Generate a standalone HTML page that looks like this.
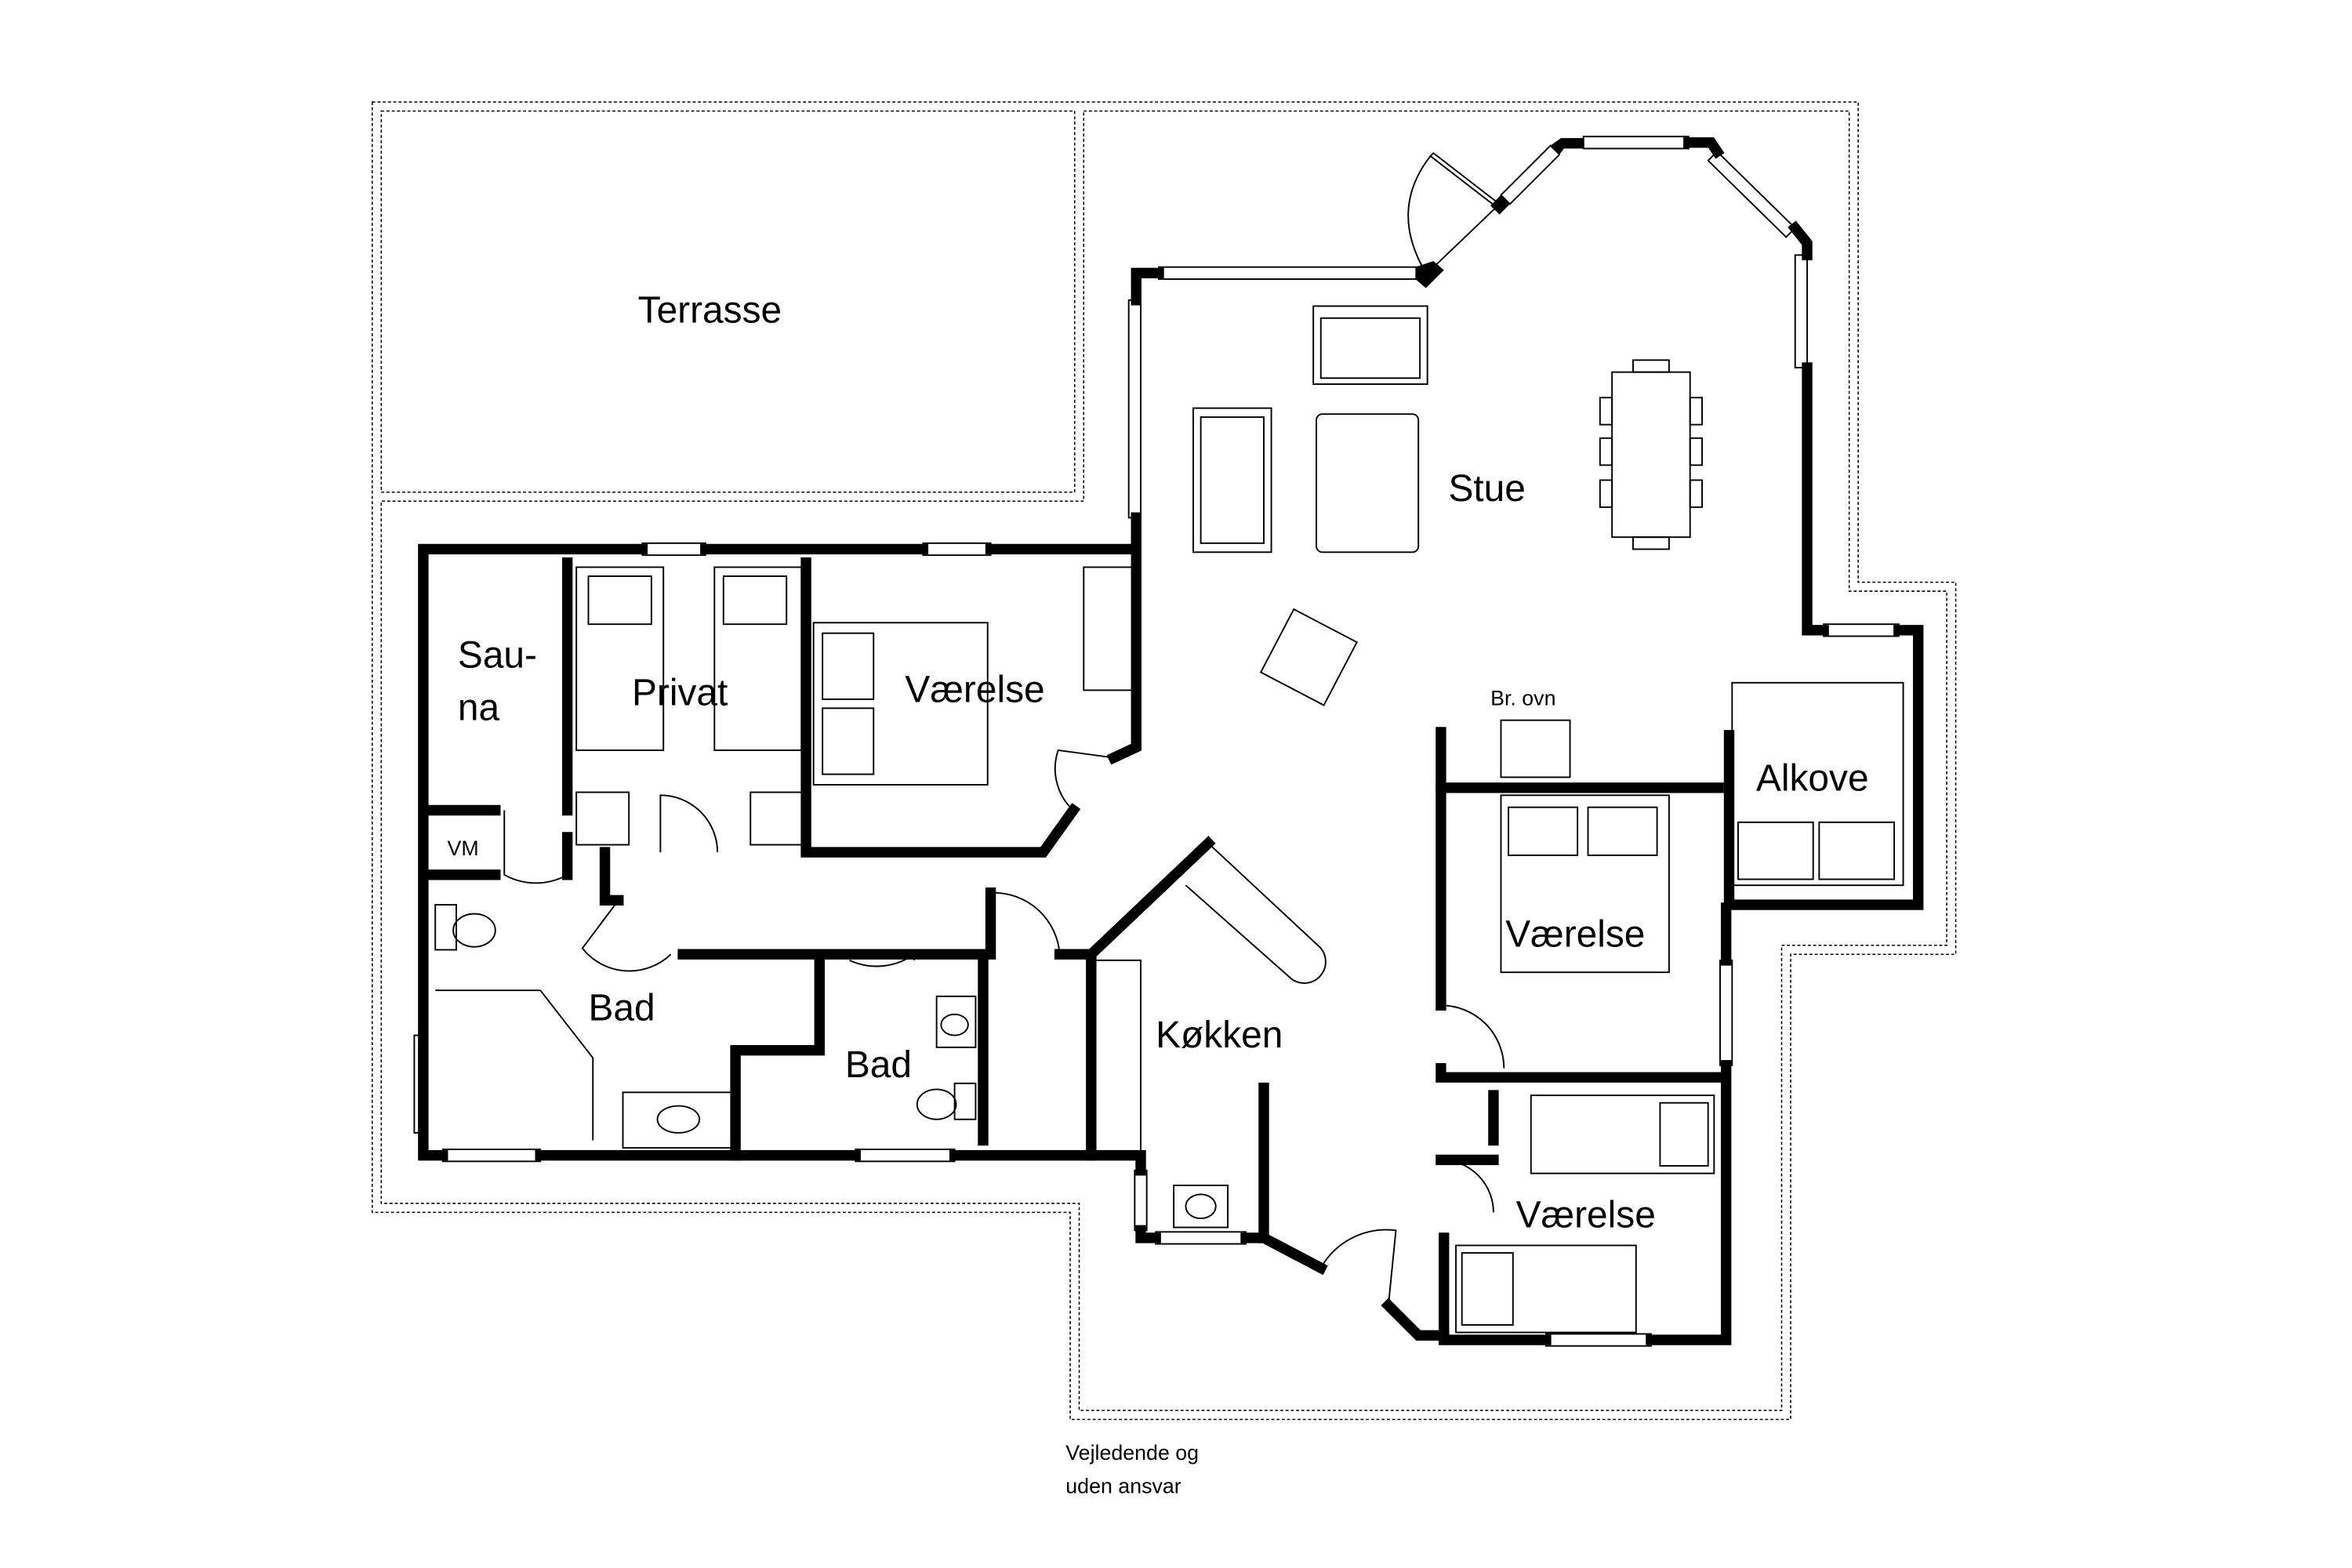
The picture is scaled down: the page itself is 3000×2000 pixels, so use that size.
<!DOCTYPE html>
<html><head><meta charset="utf-8"><style>
html,body{margin:0;padding:0;background:#fff;}
svg{display:block;}
text{font-family:"Liberation Sans",sans-serif;fill:#000;}
</style></head><body>
<svg width="3000" height="2000" viewBox="0 0 1567 1045" preserveAspectRatio="none" xmlns="http://www.w3.org/2000/svg">
<rect width="1567" height="1045" fill="#fff"/>
<g fill="none" stroke="#000" stroke-width="0.8" stroke-dasharray="2,1.5">
<path d="M248,68 H1238 V388 H1303 V636 H1193 V946 H713 V808 H248 Z"/>
<path d="M254,74 H716 V328 H254 Z"/>
<path d="M722,74 H1232 V394 H1297 V630 H1187 V940 H719 V802 H254 V334 H722 Z"/>
</g>
<g fill="#fff" stroke="#000" stroke-width="1">
<rect x="428" y="362" width="42" height="8"/>
<rect x="615" y="362" width="45" height="8"/>
<rect x="295" y="766" width="65" height="8"/>
<rect x="570" y="766" width="66" height="8"/>
<rect x="752" y="200" width="8" height="145"/>
<rect x="772" y="178" width="172" height="8"/>
<rect x="1055" y="91" width="70" height="8"/>
<rect x="1196" y="170" width="8" height="75"/>
<rect x="1215" y="416" width="50" height="8"/>
<rect x="1146" y="640" width="8" height="70"/>
<rect x="1030" y="889" width="70" height="8"/>
<rect x="276" y="690" width="8" height="65"/>
<rect x="756" y="780" width="8" height="40"/>
<rect x="770" y="821" width="60" height="8"/>
<polygon points="1000,130 1033,97 1039,103 1006,136"/>
<polygon points="1144,101 1196,152 1190,158 1138,107"/>
</g>
<!-- bay blocks -->
<g fill="#000">
<polygon points="943,178 955,174 962,180 950,192 943,186"/>
<polygon points="993,137 1000,130 1006,136 999,143"/>
<polygon points="1033,97 1040,92 1055,92 1055,99 1042,99 1039,103"/>
</g>
<g fill="none" stroke="#000" stroke-width="7" stroke-linecap="square">
<path d="M428,366 H282 V770 H295"/>
<path d="M470,366 H615"/><path d="M660,366 H757 V345"/>
<path d="M757,200 V182 H772"/>
<path d="M1125,95 H1140 L1144,101"/>
<path d="M1196,152 L1204,162 V170"/>
<path d="M1204,245 V420 H1215"/><path d="M1265,420 H1278 V603 H1152 V490"/>
<path d="M1150,605 V640"/><path d="M1150,710 V893 H1100"/>
<path d="M1030,893 H962 V825"/>
<path d="M360,770 H570"/><path d="M636,770 H760 V780"/>
<path d="M760,820 V825 H770"/><path d="M830,825 H842 L880,845"/>
<path d="M925,870 L945,890 H962"/>
<path d="M757,345 V498 L742,505"/>
<path d="M378,375 V540"/><path d="M378,558 V583"/>
<path d="M285,540 H330"/><path d="M285,583 H330"/>
<path d="M537,375 V568 H695 L715,540"/>
<path d="M403,568 V600 L412,600"/>
<path d="M455,636 H660 V595"/>
<path d="M706,636 H727 V770"/>
<path d="M727,636 L805,562"/>
<path d="M546,640 V700 H490 V770"/>
<path d="M655,642 V760"/>
<path d="M842,725 V825"/>
<path d="M960,488 V670"/><path d="M960,525 H1145"/>
<path d="M960,712 V718 H1145"/>
<path d="M995,730 V760"/><path d="M960,773 H995"/>
</g>
<g fill="none" stroke="#000" stroke-width="1">
<path d="M952,181 L997,138"/>
<polygon points="997,138 953,104 955,102 999,136"/>
<path d="M953,104 Q925,140 950,182"/>
<path d="M336,540 V583 A43,43 0 0 0 378,583"/>
<path d="M440,568 V530 A38,38 0 0 1 478,568"/>
<path d="M412,600 L388,632 A40,40 0 0 0 447,636"/>
<path d="M662,595 A44,44 0 0 1 706,636"/>
<path d="M566,640 A43,43 0 0 0 609,636 V640"/>
<path d="M742,505 L705,500 A38,38 0 0 0 715,540"/>
<path d="M960,670 A42,42 0 0 1 1002,712"/>
<path d="M960,773 A35,35 0 0 1 995,808"/>
<path d="M880,845 A50,50 0 0 1 930,820 L925,870"/>
<path d="M805,562 L878,630 A14,14 0 0 1 860,652 L790,590"/>
<path d="M727,640 H760 V770"/>
<path d="M360,660 L395,705 V760"/><path d="M290,660 H360"/>
<path d="M546,700 V670"/>
</g>
<g fill="none" stroke="#000" stroke-width="1">
<rect x="384" y="378" width="58" height="122"/><rect x="476" y="378" width="58" height="122"/>
<rect x="392" y="384" width="42" height="32"/><rect x="482" y="384" width="42" height="32"/>
<rect x="384" y="528" width="35" height="35"/><rect x="500" y="528" width="35" height="35"/>
<rect x="542" y="415" width="116" height="108"/>
<rect x="548" y="422" width="34" height="44"/><rect x="548" y="472" width="34" height="44"/>
<rect x="722" y="378" width="33" height="82"/>
<rect x="875" y="204" width="76" height="52"/><rect x="880" y="212" width="66" height="40"/>
<rect x="795" y="272" width="52" height="96"/><rect x="800" y="278" width="42" height="84"/>
<rect x="877" y="276" width="68" height="92" rx="4"/>
<rect x="1074" y="248" width="52" height="110"/>
<rect x="1088" y="240" width="24" height="8"/><rect x="1088" y="358" width="24" height="8"/>
<rect x="1066" y="265" width="8" height="18"/><rect x="1066" y="292" width="8" height="18"/><rect x="1066" y="320" width="8" height="18"/>
<rect x="1126" y="265" width="8" height="18"/><rect x="1126" y="292" width="8" height="18"/><rect x="1126" y="320" width="8" height="18"/>
<polygon points="862,406 904,428 882,470 840,448"/>
<rect x="1000" y="480" width="46" height="38"/>
<rect x="1000" y="530" width="112" height="118"/>
<rect x="1005" y="538" width="46" height="32"/><rect x="1058" y="538" width="46" height="32"/>
<rect x="1154" y="455" width="114" height="135"/>
<rect x="1158" y="548" width="50" height="38"/><rect x="1212" y="548" width="50" height="38"/>
<rect x="1020" y="730" width="122" height="52"/><rect x="1106" y="735" width="32" height="42"/>
<rect x="970" y="830" width="120" height="58"/><rect x="974" y="835" width="34" height="48"/>
<rect x="782" y="790" width="36" height="28"/><ellipse cx="800" cy="804" rx="10" ry="8"/>
<rect x="415" y="728" width="75" height="37"/><ellipse cx="452" cy="746" rx="14" ry="9"/>
<rect x="290" y="603" width="14" height="30"/><ellipse cx="316" cy="620" rx="14" ry="11"/>
<rect x="624" y="664" width="26" height="34"/><ellipse cx="636" cy="683" rx="9" ry="7"/>
<rect x="636" y="722" width="14" height="24"/><ellipse cx="624" cy="736" rx="13" ry="10"/>
</g>
<g font-size="25">
<text x="425" y="215">Terrasse</text>
<text x="965" y="334">Stue</text>
<text x="305" y="445">Sau-</text><text x="305" y="480">na</text>
<text x="421" y="470">Privat</text>
<text x="603" y="468">Værelse</text>
<text x="1170" y="527">Alkove</text>
<text x="1003" y="631">Værelse</text>
<text x="392" y="680">Bad</text>
<text x="563" y="718">Bad</text>
<text x="770" y="698">Køkken</text>
<text x="1010" y="818">Værelse</text>
</g>
<text x="993" y="470" font-size="14">Br. ovn</text>
<text x="298" y="570" font-size="14">VM</text>
<text x="710" y="973" font-size="14">Vejledende og</text>
<text x="710" y="995" font-size="14">uden ansvar</text>
</svg>
</body></html>
